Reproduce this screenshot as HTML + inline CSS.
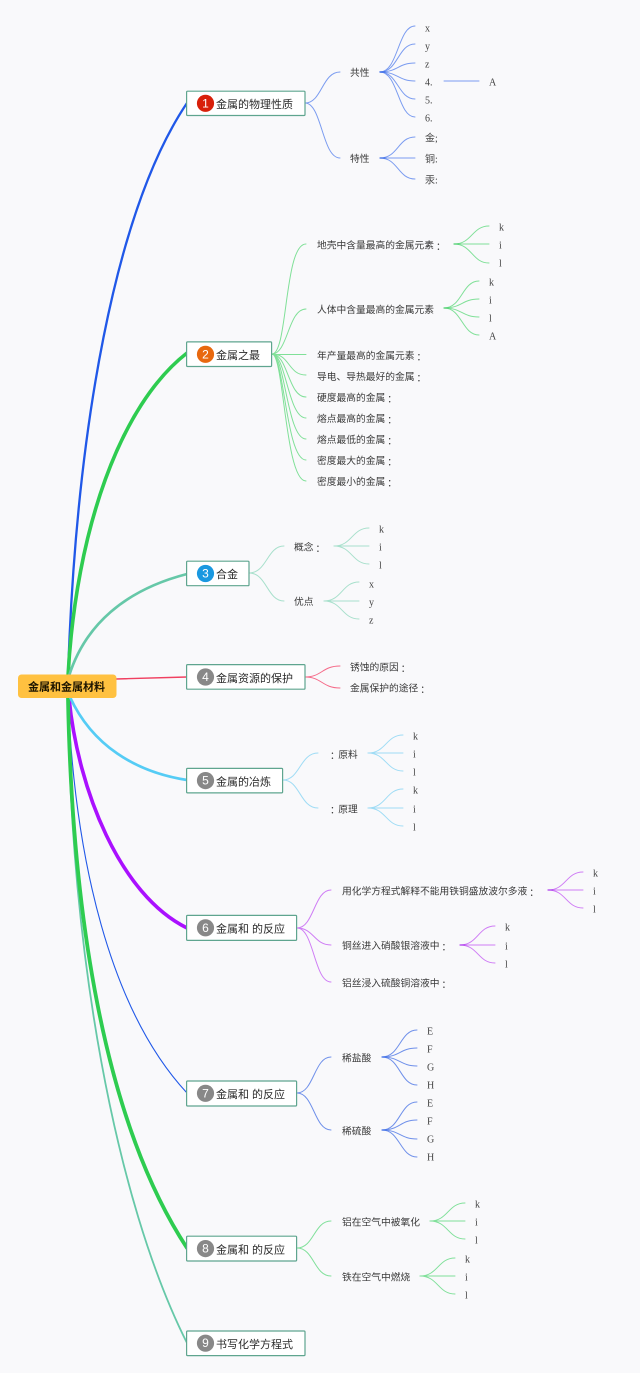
<!DOCTYPE html>
<html lang="zh-CN">
<head>
<meta charset="utf-8">
<title>金属和金属材料</title>
<style>
html,body{margin:0;padding:0;background:#f9f9fb;}
svg{display:block;filter:blur(.3px);}
.t{font-family:"Liberation Sans","Noto Sans CJK SC",sans-serif;font-size:9.75px;fill:#3a3a3a;dominant-baseline:central;transform:translateY(1px);}
.l{font-family:"Liberation Serif","Noto Sans CJK SC",serif;font-size:10px;fill:#444;dominant-baseline:central;transform:translateY(1px);}
.b{font-family:"Liberation Sans","Noto Sans CJK SC",sans-serif;font-size:11px;fill:#2a2a2a;dominant-baseline:central;transform:translateY(1px);}
.n{font-family:"Liberation Sans",sans-serif;font-size:12px;fill:#fff;text-anchor:middle;dominant-baseline:central;}
.c{font-family:"Noto Sans CJK JP",sans-serif;}
.box{fill:#fff;stroke:#5fa58f;stroke-width:1.2;}
path{fill:none;stroke-linecap:round;}
</style>
</head>
<body>
<svg width="640" height="1373" viewBox="0 0 640 1373" xmlns="http://www.w3.org/2000/svg">
<rect width="640" height="1373" fill="#f9f9fb"/>

<!-- main edges -->
<path d="M68 676 C76 430,115 210,187 103" stroke="#2058e8" stroke-width="2.3"/>
<path d="M68 698 C75 860,110 1010,187 1093" stroke="#2058e8" stroke-width="1.1"/>
<path d="M68 698 C70 950,115 1200,187 1343" stroke="#66c8a8" stroke-width="1.8"/>
<path d="M69 698 C78 790,120 895,187 928" stroke="#aa10ff" stroke-width="3.6"/>
<path d="M68 698 C72 910,103 1120,187 1248" stroke="#2ecc50" stroke-width="3.8"/>
<path d="M70 697 C92 745,135 772,187 780" stroke="#55ccf5" stroke-width="2.7"/>
<path d="M68 676 C76 530,120 405,187 353" stroke="#2ecc50" stroke-width="3.6"/>
<path d="M69 676 C85 625,125 590,187 574" stroke="#66c8a8" stroke-width="2.7"/>
<path d="M116 679 L187 677" stroke="#f04060" stroke-width="1.4"/>

<!-- group 1 -->
<g stroke="#7b9cf0" stroke-width="1">
<path d="M305 103 C322 103,322 72,340 72"/>
<path d="M305 103 C322 103,322 158,340 158"/>
<path d="M380 72 C398 72,398 26,415 26"/>
<path d="M380 72 C398 72,398 44,415 44"/>
<path d="M380 72 C398 72,398 63,415 63"/>
<path d="M380 72 C398 72,398 81,415 81"/>
<path d="M380 72 C398 72,398 99,415 99"/>
<path d="M380 72 C398 72,398 117,415 117"/>
<path d="M444 81 L479 81"/>
<path d="M380 158 C398 158,398 137,415 137"/>
<path d="M380 158 L415 158"/>
<path d="M380 158 C398 158,398 179,415 179"/>
<path d="M380 72 h5" stroke="#3f6fe8" stroke-width="1.4"/>
<path d="M380 158 h5" stroke="#3f6fe8" stroke-width="1.2"/>
</g>

<!-- group 2 -->
<g stroke="#80e098" stroke-width="1">
<path d="M272 354 C288 354,284 244,306 244"/>
<path d="M272 354 C288 354,288 309,306 309"/>
<path d="M272 354.5 L306 354.5"/>
<path d="M272 354 C290 354,288 375,306 375"/>
<path d="M272 354 C288 354,288 397,306 397"/>
<path d="M272 354 C286 354,288 418,306 418"/>
<path d="M272 354 C285 354,287 439,306 439"/>
<path d="M272 354 C284 354,286 460,306 460"/>
<path d="M272 354 C284 354,285 481,306 481"/>
<path d="M454 244 C472 244,472 226,489 226"/>
<path d="M454 244 L489 244"/>
<path d="M454 244 C472 244,472 263,489 263"/>
<path d="M444 308 C462 308,462 281,479 281"/>
<path d="M444 308 C462 308,462 299,479 299"/>
<path d="M444 308 C462 308,462 317,479 317"/>
<path d="M444 308 C462 308,462 335,479 335"/>
<path d="M454 244 h5" stroke="#4fd070" stroke-width="1.2"/>
<path d="M444 308 h5" stroke="#4fd070" stroke-width="1.2"/>
</g>

<!-- group 3 -->
<g stroke="#a8e0cc" stroke-width="1">
<path d="M249 573 C267 573,267 546,284 546"/>
<path d="M249 573 C267 573,267 601,284 601"/>
<path d="M334 546 C352 546,352 528,369 528"/>
<path d="M334 546 L369 546"/>
<path d="M334 546 C352 546,352 564,369 564"/>
<path d="M324 601 C342 601,342 582,359 582"/>
<path d="M324 601 L359 601"/>
<path d="M324 601 C342 601,342 619,359 619"/>
</g>

<!-- group 4 -->
<g stroke="#f56a88" stroke-width="1">
<path d="M305 677 C322 677,322 666,340 666"/>
<path d="M305 677 C322 677,322 688,340 688"/>
</g>

<!-- group 5 -->
<g stroke="#9fdcf5" stroke-width="1">
<path d="M283 780 C300 780,300 753,318 753"/>
<path d="M283 780 C300 780,300 808,318 808"/>
<path d="M368 753 C386 753,386 735,403 735"/>
<path d="M368 753 L403 753"/>
<path d="M368 753 C386 753,386 771,403 771"/>
<path d="M368 808 C386 808,386 789,403 789"/>
<path d="M368 808 L403 808"/>
<path d="M368 808 C386 808,386 826,403 826"/>
</g>

<!-- group 6 -->
<g stroke="#cf7df5" stroke-width="1">
<path d="M297 928 C314 928,314 890,331 890"/>
<path d="M297 928 C314 928,314 945,331 945"/>
<path d="M297 928 C314 928,314 982,331 982"/>
<path d="M548 890 C566 890,566 872,583 872"/>
<path d="M548 890 L583 890"/>
<path d="M548 890 C566 890,566 908,583 908"/>
<path d="M460 945 C478 945,478 926,495 926"/>
<path d="M460 945 L495 945"/>
<path d="M460 945 C478 945,478 963,495 963"/>
<path d="M548 890 h5" stroke="#b040ee" stroke-width="1.2"/>
<path d="M460 945 h5" stroke="#b040ee" stroke-width="1.2"/>
</g>

<!-- group 7 -->
<g stroke="#6f90ea" stroke-width="1">
<path d="M297 1093 C314 1093,314 1057,331 1057"/>
<path d="M297 1093 C314 1093,314 1130,331 1130"/>
<path d="M382 1057 C400 1057,400 1030,417 1030"/>
<path d="M382 1057 C400 1057,400 1048,417 1048"/>
<path d="M382 1057 C400 1057,400 1066,417 1066"/>
<path d="M382 1057 C400 1057,400 1085,417 1085"/>
<path d="M382 1130 C400 1130,400 1102,417 1102"/>
<path d="M382 1130 C400 1130,400 1120,417 1120"/>
<path d="M382 1130 C400 1130,400 1139,417 1139"/>
<path d="M382 1130 C400 1130,400 1157,417 1157"/>
<path d="M382 1057 h5" stroke="#3f6fe8" stroke-width="1.2"/>
<path d="M382 1130 h5" stroke="#3f6fe8" stroke-width="1.2"/>
</g>

<!-- group 8 -->
<g stroke="#80e09a" stroke-width="1">
<path d="M297 1248 C314 1248,314 1221,331 1221"/>
<path d="M297 1248 C314 1248,314 1276,331 1276"/>
<path d="M430 1221 C448 1221,448 1203,465 1203"/>
<path d="M430 1221 L465 1221"/>
<path d="M430 1221 C448 1221,448 1239,465 1239"/>
<path d="M420 1276 C438 1276,438 1258,455 1258"/>
<path d="M420 1276 L455 1276"/>
<path d="M420 1276 C438 1276,438 1294,455 1294"/>
</g>

<!-- root -->
<rect x="18" y="674.5" width="98.5" height="23.5" rx="3.5" fill="#ffc140"/>
<text x="28" y="686.5" class="b" style="font-weight:bold;fill:#1c1400">金属和金属材料</text>

<!-- branch boxes -->
<rect class="box" x="186.6" y="91.2" width="118.4" height="24.3" rx="1"/>
<circle cx="205.5" cy="103.3" r="8.6" fill="#d8200a"/><text class="n" x="205.5" y="103.3">1</text>
<text class="b" x="216" y="104">金属的物理性质</text>

<rect class="box" x="186.6" y="341.9" width="85" height="24.6" rx="1"/>
<circle cx="205.5" cy="354.3" r="8.6" fill="#e8680f"/><text class="n" x="205.5" y="354.3">2</text>
<text class="b" x="216" y="355">金属之最</text>

<rect class="box" x="186.6" y="561.2" width="62.4" height="24.5" rx="1"/>
<circle cx="205.5" cy="573.5" r="8.6" fill="#1a98e0"/><text class="n" x="205.5" y="573.5">3</text>
<text class="b" x="216" y="574">合金</text>

<rect class="box" x="186.6" y="664.6" width="118.4" height="24.6" rx="1"/>
<circle cx="205.5" cy="677" r="8.6" fill="#888"/><text class="n" x="205.5" y="677">4</text>
<text class="b" x="216" y="678">金属资源的保护</text>

<rect class="box" x="186.6" y="768.4" width="96" height="24.5" rx="1"/>
<circle cx="205.5" cy="780.6" r="8.6" fill="#888"/><text class="n" x="205.5" y="780.6">5</text>
<text class="b" x="216" y="781.5">金属的冶炼</text>

<rect class="box" x="186.6" y="915.4" width="110" height="25" rx="1"/>
<circle cx="205.5" cy="927.8" r="8.6" fill="#888"/><text class="n" x="205.5" y="927.8">6</text>
<text class="b" x="216" y="928.5" xml:space="preserve">金属和 的反应</text>

<rect class="box" x="186.6" y="1081" width="110" height="25" rx="1"/>
<circle cx="205.5" cy="1093.3" r="8.6" fill="#888"/><text class="n" x="205.5" y="1093.3">7</text>
<text class="b" x="216" y="1094" xml:space="preserve">金属和 的反应</text>

<rect class="box" x="186.6" y="1236.2" width="110" height="24.8" rx="1"/>
<circle cx="205.5" cy="1248.6" r="8.6" fill="#888"/><text class="n" x="205.5" y="1248.6">8</text>
<text class="b" x="216" y="1249.5" xml:space="preserve">金属和 的反应</text>

<rect class="box" x="186.6" y="1331" width="118.4" height="24.6" rx="1"/>
<circle cx="205.5" cy="1343.2" r="8.6" fill="#888"/><text class="n" x="205.5" y="1343.2">9</text>
<text class="b" x="216" y="1344">书写化学方程式</text>

<!-- group 1 labels -->
<text class="t" x="350" y="72.5">共性</text>
<text class="t" x="350" y="158.5">特性</text>
<text class="l" x="425" y="28">x</text>
<text class="l" x="425" y="46">y</text>
<text class="l" x="425" y="64">z</text>
<text class="l" x="425" y="82">4.</text>
<text class="l" x="425" y="100">5.</text>
<text class="l" x="425" y="118">6.</text>
<text class="l" x="489" y="82">A</text>
<text class="l" x="425" y="138">金;</text>
<text class="l" x="425" y="159">铜:</text>
<text class="l" x="425" y="180">汞:</text>

<!-- group 2 labels -->
<text class="t" x="317" y="245">地壳中含量最高的金属元素<tspan class="c" dx="2">：</tspan></text>
<text class="t" x="317" y="309.5">人体中含量最高的金属元素</text>
<text class="t" x="317" y="355.5">年产量最高的金属元素<tspan class="c" dx="2">：</tspan></text>
<text class="t" x="317" y="376.5">导电、导热最好的金属<tspan class="c" dx="2">：</tspan></text>
<text class="t" x="317" y="397.5">硬度最高的金属<tspan class="c" dx="2">：</tspan></text>
<text class="t" x="317" y="418.5">熔点最高的金属<tspan class="c" dx="2">：</tspan></text>
<text class="t" x="317" y="439.5">熔点最低的金属<tspan class="c" dx="2">：</tspan></text>
<text class="t" x="317" y="460.5">密度最大的金属<tspan class="c" dx="2">：</tspan></text>
<text class="t" x="317" y="481.5">密度最小的金属<tspan class="c" dx="2">：</tspan></text>
<text class="l" x="499" y="227">k</text>
<text class="l" x="499" y="245">i</text>
<text class="l" x="499" y="263">l</text>
<text class="l" x="489" y="282">k</text>
<text class="l" x="489" y="300">i</text>
<text class="l" x="489" y="318">l</text>
<text class="l" x="489" y="336">A</text>

<!-- group 3 labels -->
<text class="t" x="294" y="547">概念<tspan class="c" dx="2">：</tspan></text>
<text class="t" x="294" y="601.5">优点</text>
<text class="l" x="379" y="529">k</text>
<text class="l" x="379" y="547">i</text>
<text class="l" x="379" y="565">l</text>
<text class="l" x="369" y="584">x</text>
<text class="l" x="369" y="602">y</text>
<text class="l" x="369" y="620">z</text>

<!-- group 4 labels -->
<text class="t" x="350" y="667">锈蚀的原因<tspan class="c" dx="2">：</tspan></text>
<text class="t" x="350" y="688">金属保护的途径<tspan class="c" dx="2">：</tspan></text>

<!-- group 5 labels -->
<text class="t" x="328" y="754"><tspan class="c" dx="2">：</tspan><tspan dx="-1.5">原料</tspan></text>
<text class="t" x="328" y="808.5"><tspan class="c" dx="2">：</tspan><tspan dx="-1.5">原理</tspan></text>
<text class="l" x="413" y="736">k</text>
<text class="l" x="413" y="754">i</text>
<text class="l" x="413" y="772">l</text>
<text class="l" x="413" y="790">k</text>
<text class="l" x="413" y="809">i</text>
<text class="l" x="413" y="827">l</text>

<!-- group 6 labels -->
<text class="t" x="342" y="891">用化学方程式解释不能用铁铜盛放波尔多液<tspan class="c" dx="2">：</tspan></text>
<text class="t" x="342" y="945.5">铜丝进入硝酸银溶液中<tspan class="c" dx="2">：</tspan></text>
<text class="t" x="342" y="983">铝丝浸入硫酸铜溶液中<tspan class="c" dx="2">：</tspan></text>
<text class="l" x="593" y="873">k</text>
<text class="l" x="593" y="891">i</text>
<text class="l" x="593" y="909">l</text>
<text class="l" x="505" y="927">k</text>
<text class="l" x="505" y="946">i</text>
<text class="l" x="505" y="964">l</text>

<!-- group 7 labels -->
<text class="t" x="342" y="1058">稀盐酸</text>
<text class="t" x="342" y="1131">稀硫酸</text>
<text class="l" x="427" y="1031">E</text>
<text class="l" x="427" y="1049">F</text>
<text class="l" x="427" y="1067">G</text>
<text class="l" x="427" y="1085">H</text>
<text class="l" x="427" y="1103">E</text>
<text class="l" x="427" y="1121">F</text>
<text class="l" x="427" y="1139">G</text>
<text class="l" x="427" y="1157">H</text>

<!-- group 8 labels -->
<text class="t" x="342" y="1222">铝在空气中被氧化</text>
<text class="t" x="342" y="1277">铁在空气中燃烧</text>
<text class="l" x="475" y="1204">k</text>
<text class="l" x="475" y="1222">i</text>
<text class="l" x="475" y="1240">l</text>
<text class="l" x="465" y="1259">k</text>
<text class="l" x="465" y="1277">i</text>
<text class="l" x="465" y="1295">l</text>
</svg>
</body>
</html>
